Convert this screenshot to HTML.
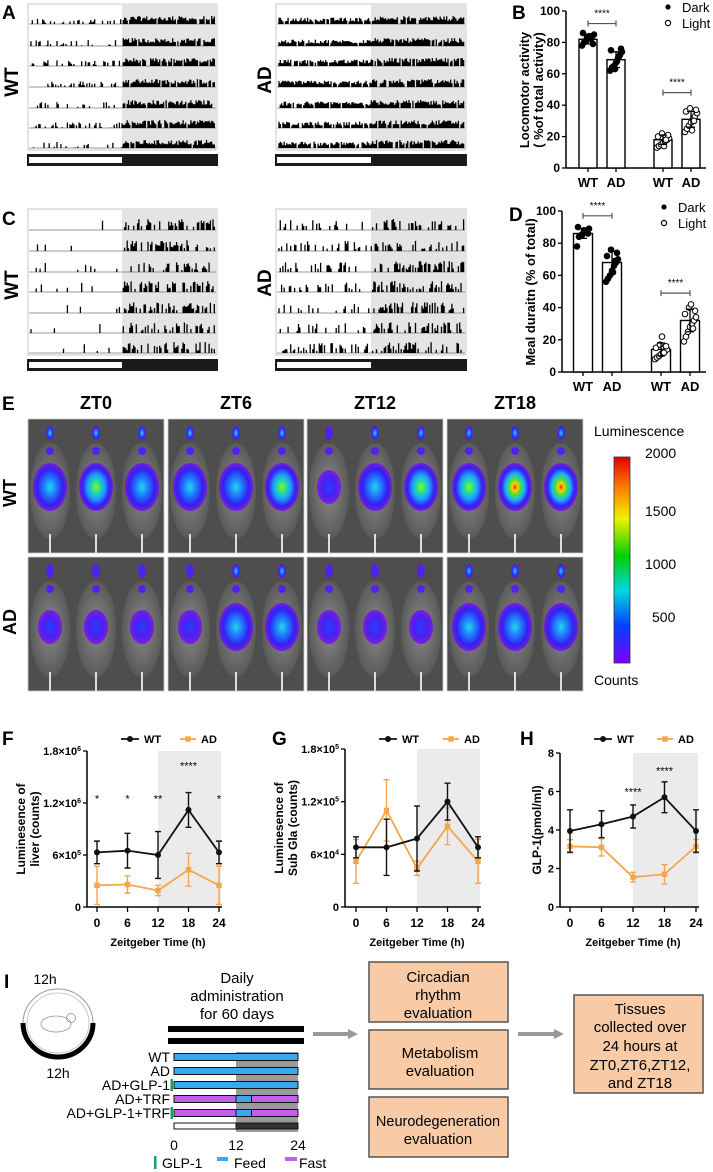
<!DOCTYPE html>
<html><head><meta charset="utf-8"><style>
html,body{margin:0;padding:0;background:#fff;}
svg{display:block;font-family:"Liberation Sans",Arial,sans-serif;}
.b{font-weight:bold;}
</style></head><body>
<svg id="fig" width="713" height="1172" viewBox="0 0 713 1172" xmlns="http://www.w3.org/2000/svg">
<defs>
<linearGradient id="cbar" x1="0" y1="0" x2="0" y2="1">
<stop offset="0" stop-color="#e00000"/><stop offset="0.15" stop-color="#ff8000"/><stop offset="0.3" stop-color="#f0f000"/><stop offset="0.48" stop-color="#00d000"/><stop offset="0.65" stop-color="#00d8e0"/><stop offset="0.82" stop-color="#0040ff"/><stop offset="1" stop-color="#8000ff"/>
</linearGradient>
<radialGradient id="g1"><stop offset="0" stop-color="#2a3cff"/><stop offset="0.6" stop-color="#4b20f0"/><stop offset="1" stop-color="#7a10f0" stop-opacity="0.85"/></radialGradient>
<radialGradient id="g2"><stop offset="0" stop-color="#20d8e8"/><stop offset="0.35" stop-color="#2080ff"/><stop offset="0.75" stop-color="#3020f0"/><stop offset="1" stop-color="#7a10f0" stop-opacity="0.85"/></radialGradient>
<radialGradient id="g3"><stop offset="0" stop-color="#a0f000"/><stop offset="0.25" stop-color="#20e0a0"/><stop offset="0.5" stop-color="#20a0ff"/><stop offset="0.8" stop-color="#3020f0"/><stop offset="1" stop-color="#7a10f0" stop-opacity="0.85"/></radialGradient>
<radialGradient id="g4"><stop offset="0" stop-color="#ff1010"/><stop offset="0.15" stop-color="#ffd000"/><stop offset="0.35" stop-color="#40e040"/><stop offset="0.55" stop-color="#20b0ff"/><stop offset="0.8" stop-color="#3020f0"/><stop offset="1" stop-color="#7a10f0" stop-opacity="0.85"/></radialGradient>
<radialGradient id="mouse"><stop offset="0" stop-color="#8a8a8a"/><stop offset="1" stop-color="#5a5a5a"/></radialGradient>
</defs>

<text x="2" y="19" class="b" font-size="19">A</text>
<text x="2" y="225" class="b" font-size="19">C</text>
<text x="512" y="19" class="b" font-size="19">B</text>
<text x="509" y="221" class="b" font-size="19">D</text>
<text x="2" y="410" class="b" font-size="19">E</text>
<text x="2" y="745" class="b" font-size="19">F</text>
<text x="272" y="745" class="b" font-size="19">G</text>
<text x="520" y="745" class="b" font-size="19">H</text>
<text x="4" y="988" class="b" font-size="19">I</text>

<text transform="translate(18,82) rotate(-90)" text-anchor="middle" class="b" font-size="19">WT</text>
<text transform="translate(271,80) rotate(-90)" text-anchor="middle" class="b" font-size="19">AD</text>
<text transform="translate(18,285) rotate(-90)" text-anchor="middle" class="b" font-size="19">WT</text>
<text transform="translate(271,283) rotate(-90)" text-anchor="middle" class="b" font-size="19">AD</text>
<text transform="translate(16,493) rotate(-90)" text-anchor="middle" class="b" font-size="18">WT</text>
<text transform="translate(16,622) rotate(-90)" text-anchor="middle" class="b" font-size="18">AD</text>

<g id="acto"></g>
<g id="barB"></g>
<g id="barD"></g>
<g id="imgE"></g>
<g id="lineF"></g>
<g id="lineG"></g>
<g id="lineH"></g>

<text x="594" y="436" font-size="14">Luminescence</text>
<rect x="614" y="457" width="16" height="206" fill="url(#cbar)" stroke="#333" stroke-width="0.8"/>
<g font-size="14">
<text x="645" y="458">2000</text><text x="645" y="516">1500</text><text x="645" y="569">1000</text><text x="652" y="622">500</text>
</g>
<text x="594" y="685" font-size="14">Counts</text>

<g>
<text x="45" y="984" text-anchor="middle" font-size="14">12h</text>
<ellipse cx="58" cy="1023" rx="35" ry="34" fill="#fff" stroke="#999" stroke-width="1"/>
<ellipse cx="58" cy="1023" rx="31" ry="30" fill="none" stroke="#bbb" stroke-width="0.8"/>
<path d="M23,1023 A35,34 0 0 0 93,1023" fill="none" stroke="#000" stroke-width="5"/>
<ellipse cx="56" cy="1024" rx="15" ry="8" fill="none" stroke="#888" stroke-width="0.7"/>
<circle cx="71" cy="1018" r="4.5" fill="none" stroke="#888" stroke-width="0.7"/>
<text x="58" y="1078" text-anchor="middle" font-size="14">12h</text>
</g>
<g font-size="15" text-anchor="middle">
<text x="237" y="983">Daily</text><text x="237" y="1001">administration</text><text x="237" y="1019">for 60 days</text>
</g>
<rect x="168" y="1026" width="136" height="6" fill="#000"/>
<rect x="168" y="1038" width="136" height="6" fill="#000"/>
<g id="schedule"></g>

<g><line x1="313" y1="1034" x2="350" y2="1034" stroke="#999" stroke-width="4"/><polygon points="348,1029 358,1034 348,1039" fill="#999"/></g>
<g><line x1="518" y1="1034" x2="556" y2="1034" stroke="#999" stroke-width="4"/><polygon points="554,1029 564,1034 554,1039" fill="#999"/></g>
<g font-size="15" text-anchor="middle">
<g><rect x="369" y="962" width="139" height="60" fill="#f8cba6" stroke="#555" stroke-width="1.5"/><text x="438" y="982">Circadian</text><text x="438" y="1000">rhythm</text><text x="438" y="1018">evaluation</text></g>
<g><rect x="369" y="1030" width="139" height="59" fill="#f8cba6" stroke="#555" stroke-width="1.5"/><text x="440" y="1058">Metabolism</text><text x="440" y="1076">evaluation</text></g>
<g><rect x="369" y="1097" width="139" height="60" fill="#f8cba6" stroke="#555" stroke-width="1.5"/><text x="438" y="1126" font-size="14.5">Neurodegeneration</text><text x="438" y="1144">evaluation</text></g>
<g><rect x="574" y="995" width="129" height="98" fill="#f8cba6" stroke="#555" stroke-width="1.5"/><text x="640" y="1014">Tissues</text><text x="640" y="1032">collected over</text><text x="640" y="1051">24 hours at</text><text x="640" y="1070">ZT0,ZT6,ZT12,</text><text x="640" y="1088">and ZT18</text></g>
</g>
</svg>
<script>
const NS='http://www.w3.org/2000/svg';
const svg=document.getElementById('fig');
function mk(tag,attrs,parent){const e=document.createElementNS(NS,tag);for(const k in attrs)e.setAttribute(k,attrs[k]);(parent||svg).appendChild(e);return e;}
function txt(s,attrs,parent){const e=mk('text',attrs,parent);e.textContent=s;return e;}

const groupLabels=['WT','AD','WT','AD'];
const phaseFilled=[true,true,false,false];
const locoMeans=[82,69,18,31];
const locoSD=[3,5,3,5];
const locoPts=[[78,80,81,82,83,84,85,86,79,83,84,82],[62,64,65,67,70,72,74,75,76,63,68,71],[13,14,15,16,17,18,19,20,21,22,14,18],[23,25,27,29,31,33,35,36,37,38,24,30]];
const mealMeans=[86,68,14,32];
const mealSD=[3,7,4,7];
const mealPts=[[78,84,85,86,87,88,89,90,86,85,88,87],[56,58,60,63,66,68,70,72,74,76,62,69],[8,9,10,11,12,13,14,15,16,17,22,12],[19,22,25,28,30,32,34,36,38,40,42,27]];
const yTicksPct=[0,20,40,60,80,100];

const ztHours=[0,6,12,18,24];
const liverWT=[6.3e5,6.5e5,6.0e5,1.12e6,6.3e5];
const liverWTsd=[1.3e5,2.0e5,2.7e5,2.0e5,1.3e5];
const liverAD=[2.5e5,2.6e5,1.9e5,4.3e5,2.5e5];
const liverADsd=[2.2e5,1.0e5,0.6e5,1.9e5,2.2e5];
const subWT=[6.8e4,6.8e4,7.8e4,1.2e5,6.8e4];
const subWTsd=[1.2e4,3.2e4,3.7e4,2.1e4,1.2e4];
const subAD=[5.2e4,1.1e5,4.4e4,9.2e4,5.2e4];
const subADsd=[2.5e4,3.5e4,0.8e4,2.1e4,2.5e4];
const glpWT=[3.95,4.3,4.7,5.7,3.95];
const glpWTsd=[1.1,0.7,0.6,0.8,1.1];
const glpAD=[3.15,3.1,1.55,1.7,3.15];
const glpADsd=[0.35,0.45,0.25,0.5,0.35];
const liverTicks=[0,6e5,1.2e6,1.8e6];
const liverTickLabels=[['0',''],['6×10','5'],['1.2×10','6'],['1.8×10','6']];
const subTicks=[0,6e4,1.2e5,1.8e5];
const subTickLabels=[['0',''],['6×10','4'],['1.2×10','5'],['1.8×10','5']];
const glpTicks=[0,2,4,6,8];
const glpTickLabels=[['0',''],['2',''],['4',''],['6',''],['8','']];
const liverStars=['*','*','**','****','*'];
const liverStarY=[1.25e6,1.25e6,1.25e6,1.63e6,1.25e6];
const glpStars=['','','****','****',''];
const glpStarY=[0,0,6.0,7.1,0];

let seed=12345;
function rnd(){seed=(seed*1103515245+12345)%2147483648;return seed/2147483648;}
const acto=document.getElementById('acto');
function actoBox(x0,x1,xg,top,bot,bases,mode,ad){
  const bg=mk('rect',{x:x0,y:top,width:x1-x0,height:bot-top,fill:'#fff',stroke:'#bbb','stroke-width':0.8},acto);
  
  
  const dk=mk('rect',{x:xg,y:top,width:x1-xg,height:bot-top,fill:'#e4e4e4'},acto);
  
  
  bases.forEach(b=>{
    let d='';
    for(let x=x0+3;x<x1-2;x+=1.3){
      const dark=x>=xg;let h=0;
      if(mode==='loco'){
        if(dark||ad){h=(rnd()<0.9)?3+rnd()*5:0;if(ad&&!dark)h*=0.8;}
        else{h=(rnd()<0.35)?rnd()*6:0;}
      }else{
        const p=dark?(ad?0.45:0.5):(ad?0.3:0.04);
        h=(rnd()<p)?2+rnd()*(dark?9:8):0;
      }
      if(h>0)d+=`M${x.toFixed(1)},${b}v${(-h).toFixed(1)}`;
    }
    const ln=mk('line',{x1:x0+1,x2:x1-1,y1:b,y2:b,stroke:'#777','stroke-width':0.8},acto);
    
    
    const p=mk('path',{d:d,stroke:'#000','stroke-width':1.3,fill:'none'},acto);
    
    
  });
}
function ldBar(x0,x1,xg,y){
  const r=mk('rect',{x:x0,y:y,width:x1-x0,height:12,fill:'#1a1a1a'},acto);
  
  
  const w=mk('rect',{x:x0+2,y:y+3,width:xg-x0-2,height:6,fill:'#fff'},acto);
  
  
}
const basesA=[24,46,66,87,108,128,148];
const basesC=[230,251,272,292,313,333,353];
actoBox(28,217,122,4,150,basesA,'loco',false);
actoBox(276,466,371,4,150,basesA,'loco',true);
actoBox(28,217,122,209,355,basesC,'meal',false);
actoBox(276,466,371,209,355,basesC,'meal',true);
ldBar(27,218,122,154);ldBar(275,467,371,154);
ldBar(27,218,122,359);ldBar(275,467,371,359);

function barChart(gid,cfg,means,sds,pts){
  const g=document.getElementById(gid);
  const y=v=>cfg.y0-(v/100)*(cfg.y0-cfg.y100);
  const ax=mk('line',{x1:cfg.ax,x2:cfg.ax,y1:cfg.y100,y2:cfg.y0,stroke:'#000','stroke-width':1.5},g);
  
  
  const xa=mk('line',{x1:cfg.ax,x2:cfg.xend,y1:cfg.y0,y2:cfg.y0,stroke:'#000','stroke-width':1.5},g);
  
  
  yTicksPct.forEach(t=>{
    const tk=mk('line',{x1:cfg.ax-4,x2:cfg.ax,y1:y(t),y2:y(t),stroke:'#000','stroke-width':1.3},g);
    
    
    const tl=txt(String(t),{x:cfg.ax-6,y:y(t)+4,'text-anchor':'end','font-size':12,'font-weight':'bold'},g);
    
    
  });
  const jit=[-6,-4,-2,0,2,4,6,-5,5,-1,1,3];
  means.forEach((m,i)=>{
    const cx=cfg.centers[i];
    const bar=mk('rect',{x:cx-cfg.bw/2,y:y(m),width:cfg.bw,height:cfg.y0-y(m),fill:'#fff',stroke:'#000','stroke-width':1.4},g);
    
    
    pts[i].forEach((p,j)=>{
      const c=mk('circle',{cx:cx+jit[j%jit.length],cy:y(p),r:2.8,fill:phaseFilled[i]?'#000':'#fff',stroke:'#000','stroke-width':1},g);
      
      
    });
    const e=mk('path',{d:`M${cx},${y(m-sds[i])}V${y(m+sds[i])}M${cx-4},${y(m+sds[i])}h8M${cx-4},${y(m-sds[i])}h8`,stroke:'#000','stroke-width':1.3,fill:'none'},g);
    
    
    const tk=mk('line',{x1:cx,x2:cx,y1:cfg.y0,y2:cfg.y0+4,stroke:'#000','stroke-width':1.3},g);
    
    
    const lb=txt(groupLabels[i],{x:cx,y:cfg.y0+19,'text-anchor':'middle','font-size':13,'font-weight':'bold'},g);
    
    
  });
  cfg.brackets.forEach(b=>{
    const x1=cfg.centers[b[0]],x2=cfg.centers[b[1]];
    const br=mk('path',{d:`M${x1},${y(b[2])-3}v6M${x1},${y(b[2])}H${x2}M${x2},${y(b[2])-3}v6`,stroke:'#555','stroke-width':1.2,fill:'none'},g);
    
    
    const st=txt('****',{x:(x1+x2)/2,y:y(b[2])-7,'text-anchor':'middle','font-size':10},g);
    
    
  });
  const l1=mk('circle',{cx:cfg.lx,cy:cfg.ly,r:2.6,fill:'#000'},g);
  
  
  const t1=txt('Dark',{x:cfg.lx+14,y:cfg.ly+5,'font-size':13},g);
  
  
  const l2=mk('circle',{cx:cfg.lx,cy:cfg.ly+16,r:2.6,fill:'#fff',stroke:'#000','stroke-width':1.2},g);
  
  
  const t2=txt('Light',{x:cfg.lx+14,y:cfg.ly+21,'font-size':13},g);
  
  
  cfg.ylab.forEach((s,k)=>{
    const t=txt(s,{transform:`translate(${cfg.ylx+k*14},${cfg.yly}) rotate(-90)`,'text-anchor':'middle','font-size':13,'font-weight':'bold'},g);
    
    
  });
}
barChart('barB',{ax:566,y0:168,y100:11,xend:706,centers:[588,616,663,691],bw:18,brackets:[[0,1,92],[2,3,48]],lx:668,ly:7,ylab:['Locomotor activity','( %of total activity)'],ylx:529,yly:90},locoMeans,locoSD,locoPts);
barChart('barD',{ax:562,y0:372,y100:211,xend:706,centers:[583,612,661,690],bw:19,brackets:[[0,1,97],[2,3,49]],lx:664,ly:207,ylab:['Meal duraitn (% of total)'],ylx:535,yly:292},mealMeans,mealSD,mealPts);

const ztTitles=['ZT0','ZT6','ZT12','ZT18'];
const wtIntensity=[[2,3,2],[2,2,3],[1,2,3],[3,4,4]];
const adIntensity=[[1,1,1],[1,2,2],[1,1,1],[2,2,2]];
const imgE=document.getElementById('imgE');
const colX=[28,168,307,447];
ztTitles.forEach((t,c)=>{
  const tt=txt(t,{x:colX[c]+68,y:409,'text-anchor':'middle','font-size':18,'font-weight':'bold'},imgE);
  
  
  [[419,wtIntensity],[557,adIntensity]].forEach(([py,arr],r)=>{
    const x=colX[c];
    const bg=mk('rect',{x:x,y:py,width:136,height:134,fill:'#4e4e4e',stroke:'#ccc','stroke-width':0.8},imgE);
    
    
    for(let m=0;m<3;m++){
      const mx=x+22+m*46;
      const body=mk('ellipse',{cx:mx,cy:py+72,rx:20,ry:48,fill:'url(#mouse)'},imgE);
      
      
      const lvl=arr[c][m];
      const blob=mk('ellipse',{cx:mx,cy:py+(r?70:68),rx:lvl>1?17:12,ry:lvl>1?24:17,fill:'url(#g'+lvl+')'},imgE);
      
      
      const head=mk('ellipse',{cx:mx,cy:py+14,rx:4,ry:7,fill:'url(#g'+Math.min(lvl,2)+')'},imgE);
      
      
      const neck=mk('circle',{cx:mx,cy:py+32,r:4,fill:'url(#g1)'},imgE);
      
      
      const tail=mk('line',{x1:mx,x2:mx,y1:py+115,y2:py+134,stroke:'#ddd','stroke-width':2},imgE);
      
      
    }
  });
});

function lineChart(gid,cfg,wt,wtsd,ad,adsd,ticks,tlabels,stars,starY){
  const g=document.getElementById(gid);
  const X=h=>cfg.x0+(h/24)*(cfg.x24-cfg.x0);
  const Y=v=>cfg.ybot-(v/cfg.ymax)*(cfg.ybot-cfg.ytop);
  const sh=mk('rect',{x:X(12),y:cfg.ytop,width:X(24)-X(12)+2,height:cfg.ybot-cfg.ytop,fill:'#ebebeb'},g);
  
  
  const ya=mk('line',{x1:cfg.ax,x2:cfg.ax,y1:cfg.ytop,y2:cfg.ybot,stroke:'#000','stroke-width':1.5},g);
  
  
  const xa=mk('line',{x1:cfg.ax,x2:X(24)+3,y1:cfg.ybot,y2:cfg.ybot,stroke:'#000','stroke-width':1.5},g);
  
  
  ticks.forEach((t,i)=>{
    const tk=mk('line',{x1:cfg.ax-4,x2:cfg.ax,y1:Y(t),y2:Y(t),stroke:'#000','stroke-width':1.3},g);
    
    
    const tl=mk('text',{x:cfg.ax-6,y:Y(t)+4,'text-anchor':'end','font-size':11,'font-weight':'bold'},g);
    
    
    const a=document.createElementNS(NS,'tspan');a.textContent=tlabels[i][0];tl.appendChild(a);
    if(tlabels[i][1]){const s=document.createElementNS(NS,'tspan');s.setAttribute('dy','-4');s.setAttribute('font-size','7');s.textContent=tlabels[i][1];tl.appendChild(s);}
  });
  ztHours.forEach(h=>{
    const tk=mk('line',{x1:X(h),x2:X(h),y1:cfg.ybot,y2:cfg.ybot+5,stroke:'#000','stroke-width':1.3},g);
    
    
    const tl=txt(String(h),{x:X(h),y:cfg.ybot+20,'text-anchor':'middle','font-size':12,'font-weight':'bold'},g);
    
    
  });
  const xt=txt('Zeitgeber Time (h)',{x:(cfg.x0+cfg.x24)/2,y:cfg.ybot+39,'text-anchor':'middle','font-size':11,'font-weight':'bold'},g);
  
  
  cfg.ylab.forEach((s,k)=>{
    const t=txt(s,{transform:`translate(${cfg.ylx+k*14},${(cfg.ytop+cfg.ybot)/2}) rotate(-90)`,'text-anchor':'middle','font-size':12,'font-weight':'bold'},g);
    
    
  });
  [[ad,adsd,'#f5a54a','ad'],[wt,wtsd,'#111','wt']].forEach(([v,sd,col,nm])=>{
    ztHours.forEach((h,i)=>{
      const e=mk('path',{d:`M${X(h)},${Y(Math.max(0,v[i]-sd[i]))}V${Y(v[i]+sd[i])}M${X(h)-3},${Y(v[i]+sd[i])}h6M${X(h)-3},${Y(Math.max(0,v[i]-sd[i]))}h6`,stroke:col,'stroke-width':1.4,fill:'none'},g);
      
      
    });
    const pl=mk('polyline',{points:ztHours.map((h,i)=>X(h)+','+Y(v[i])).join(' '),fill:'none',stroke:col,'stroke-width':1.8},g);
    
    
    ztHours.forEach((h,i)=>{
      const mkr=nm==='wt'?mk('circle',{cx:X(h),cy:Y(v[i]),r:3,fill:col},g):mk('rect',{x:X(h)-2.7,y:Y(v[i])-2.7,width:5.4,height:5.4,fill:col},g);
      
      
    });
  });
  stars.forEach((s,i)=>{
    if(!s)return;
    const st=txt(s,{x:X(ztHours[i]),y:Y(starY[i])+4,'text-anchor':'middle','font-size':11},g);
    
    
  });
  const L=cfg.leg;
  const lw=mk('path',{d:`M${L[0]},739H${L[0]+18}`,stroke:'#111','stroke-width':1.8},g);
  
  
  const lwc=mk('circle',{cx:L[0]+9,cy:739,r:3,fill:'#111'},g);
  
  
  const lwt=txt('WT',{x:L[0]+23,y:743,'font-size':11,'font-weight':'bold'},g);
  
  
  const la=mk('path',{d:`M${L[1]},739H${L[1]+16}`,stroke:'#f5a54a','stroke-width':1.8},g);
  
  
  const lac=mk('rect',{x:L[1]+5.3,y:736.3,width:5.4,height:5.4,fill:'#f5a54a'},g);
  
  
  const lat=txt('AD',{x:L[1]+21,y:743,'font-size':11,'font-weight':'bold'},g);
  
  
}
lineChart('lineF',{ax:87,x0:97,x24:219,ytop:751,ybot:907,ymax:1.8e6,ylab:['Luminesence of','liver (counts)'],ylx:25,leg:[121,180]},liverWT,liverWTsd,liverAD,liverADsd,liverTicks,liverTickLabels,liverStars,liverStarY);
lineChart('lineG',{ax:345,x0:356,x24:478,ytop:749,ybot:907,ymax:1.8e5,ylab:['Luminesence of','Sub Gla (counts)'],ylx:283,leg:[379,443]},subWT,subWTsd,subAD,subADsd,subTicks,subTickLabels,['','','','',''],[0,0,0,0,0]);
lineChart('lineH',{ax:560,x0:570,x24:696,ytop:753,ybot:907,ymax:8,ylab:['GLP-1(pmol/ml)'],ylx:541,leg:[594,657]},glpWT,glpWTsd,glpAD,glpADsd,glpTicks,glpTickLabels,glpStars,glpStarY);

const schedGroups=['WT','AD','AD+GLP-1','AD+TRF','AD+GLP-1+TRF'];
const schedGLP=[false,false,true,false,true];
const schedTRF=[false,false,false,true,true];
const sg=document.getElementById('schedule');
const SX=h=>174+(h/24)*124;
const shade=mk('rect',{x:SX(12),y:1052,width:SX(24)-SX(12),height:80,fill:'#9a9a9a'},sg);


schedGroups.forEach((nm,i)=>{
  const yc=1057+i*14;
  const lb=txt(nm,{x:170,y:yc+5,'text-anchor':'end','font-size':14},sg);
  
  
  const segs=schedTRF[i]?[[0,12,'#c65cf0'],[12,15,'#3aa8ec'],[15,24,'#c65cf0']]:[[0,24,'#3aa8ec']];
  segs.forEach(s=>{
    const r=mk('rect',{x:SX(s[0]),y:yc-3.5,width:SX(s[1])-SX(s[0]),height:7,fill:s[2],stroke:'#111','stroke-width':1},sg);
    
    
  });
  if(schedGLP[i]){
    const gm=mk('rect',{x:170.5,y:yc-6,width:2.5,height:12,fill:'#1aa060'},sg);
    
    
  }
});
const lw2=mk('rect',{x:SX(0),y:1123,width:SX(12)-SX(0),height:6,fill:'#fff',stroke:'#111','stroke-width':1},sg);


const dk2=mk('rect',{x:SX(12),y:1123,width:SX(24)-SX(12),height:6,fill:'#333',stroke:'#111','stroke-width':1},sg);


[0,12,24].forEach(h=>{
  const t=txt(String(h),{x:SX(h),y:1150,'text-anchor':'middle','font-size':14},sg);
  
  
});
const lg1=mk('rect',{x:154,y:1156,width:2.5,height:13,fill:'#1aa060'},sg);


const lt1=txt('GLP-1',{x:162,y:1168,'font-size':14},sg);


const lg2=mk('rect',{x:217,y:1157,width:11,height:4,fill:'#3aa8ec'},sg);


const lt2=txt('Feed',{x:234,y:1168,'font-size':14},sg);


const lg3=mk('rect',{x:285,y:1157,width:12,height:4,fill:'#c65cf0'},sg);


const lt3=txt('Fast',{x:299,y:1168,'font-size':14},sg);


</script>
</body></html>
